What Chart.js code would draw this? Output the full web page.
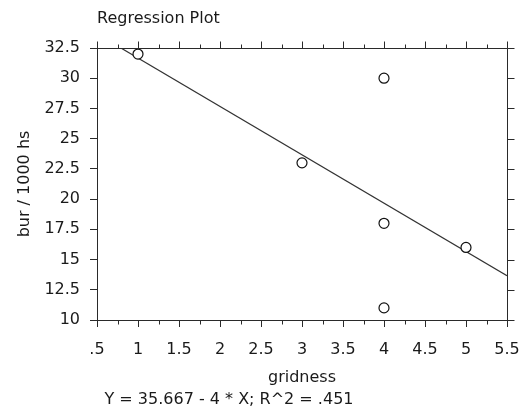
<!DOCTYPE html>
<html>
<head>
<meta charset="utf-8">
<script src="https://cdn.jsdelivr.net/npm/chart.js@4.4.1/dist/chart.umd.min.js"></script>
<style>
  html, body { margin: 0; padding: 0; background: #fff; }
  #wrap { width: 523px; height: 409px; }
</style>
</head>
<body>
<div id="wrap"><canvas id="chart" width="523" height="409"></canvas></div>
<script>
// observed points
const gridness = [1, 3, 4, 4, 4, 5];
const burRate = [32, 23, 30, 18, 11, 16];

// fitted line ends (Y = 35.667 - 4 * X)
const fitX = [0.5, 5.5];
const fitY = [33.667, 13.667];

// axis ticks
const xTickValues = [0.5, 1, 1.5, 2, 2.5, 3, 3.5, 4, 4.5, 5, 5.5];
const xMinorTicks = [0.75, 1.25, 1.75, 2.25, 2.75, 3.25, 3.75, 4.25, 4.75, 5.25];
const yTickValues = [10, 12.5, 15, 17.5, 20, 22.5, 25, 27.5, 30, 32.5];

const titleText = 'Regression Plot';
const xTitle = 'gridness';
const yTitle = 'bur / 1000 hs';
const fitText = 'Y = 35.667 - 4 * X; R^2 = .451';

const ink = '#1a1a1a';
const axisColor = '#2a2a2a';
const fontFamily = '"DejaVu Sans", Verdana, sans-serif';

const frameTicks = {
    id: 'frameTicks',
    afterDraw(chart) {
        const { ctx, chartArea: a, scales: { x, y } } = chart;
        const px = v => Math.round(x.getPixelForValue(v)) + 0.5;
        const py = v => Math.round(y.getPixelForValue(v)) + 0.5;
        const top = Math.round(a.top) + 0.5;
        const right = Math.round(a.right) + 0.5;
        const bottom = Math.round(a.bottom) + 0.5;

        ctx.save();
        ctx.strokeStyle = axisColor;
        ctx.lineWidth = 1;
        ctx.beginPath();
        ctx.moveTo(Math.round(a.left) + 0.5, top);
        ctx.lineTo(right, top);
        ctx.lineTo(right, bottom);
        xTickValues.forEach(v => {
            ctx.moveTo(px(v), top);
            ctx.lineTo(px(v), top - 7);
        });
        xMinorTicks.forEach(v => {
            ctx.moveTo(px(v), top);
            ctx.lineTo(px(v), top - 4);
            ctx.moveTo(px(v), bottom);
            ctx.lineTo(px(v), bottom + 4);
        });
        yTickValues.forEach(v => {
            ctx.moveTo(right, py(v));
            ctx.lineTo(right + 7, py(v));
        });
        ctx.stroke();

        ctx.fillStyle = ink;
        ctx.font = `16px ${fontFamily}`;
        ctx.textAlign = 'left';
        ctx.textBaseline = 'middle';
        ctx.fillText(titleText, 97, 19);

        ctx.textAlign = 'center';
        ctx.fillText(fitText, 229, 400);
        ctx.restore();
    }
};

const tickLabel = v => String(v).replace(/^0\./, '.');

new Chart(document.getElementById('chart'), {
    type: 'scatter',
    data: {
        datasets: [
            {
                label: 'observed',
                data: gridness.map((g, i) => ({ x: g, y: burRate[i] })),
                pointStyle: 'circle',
                pointRadius: 5,
                pointBorderWidth: 1.2,
                pointBorderColor: '#111',
                pointBackgroundColor: '#fff',
                order: 0
            },
            {
                type: 'line',
                label: 'fit',
                data: fitX.map((g, i) => ({ x: g, y: fitY[i] })),
                borderColor: '#333',
                borderWidth: 1.2,
                pointRadius: 0,
                fill: false,
                order: 1
            }
        ]
    },
    plugins: [frameTicks],
    options: {
        responsive: false,
        animation: false,
        layout: { padding: { top: 48, right: 16, left: 0, bottom: 0 } },
        plugins: {
            legend: { display: false },
            tooltip: { enabled: false },
            title: { display: false }
        },
        scales: {
            x: {
                type: 'linear',
                min: 0.5,
                max: 5.5,
                afterBuildTicks: s => { s.ticks = xTickValues.map(v => ({ value: v })); },
                afterFit: s => { s.height = 89; s.paddingLeft = 0; s.paddingRight = 0; },
                grid: { drawOnChartArea: false, tickLength: 7, color: axisColor },
                border: { color: axisColor, width: 1 },
                ticks: {
                    color: ink,
                    font: { family: fontFamily, size: 16 },
                    padding: 13,
                    maxRotation: 0,
                    autoSkip: false,
                    callback: tickLabel
                },
                title: {
                    display: true,
                    text: xTitle,
                    color: ink,
                    font: { family: fontFamily, size: 16 },
                    padding: 22
                }
            },
            y: {
                type: 'linear',
                min: 10,
                max: 32.5,
                afterBuildTicks: s => { s.ticks = yTickValues.map(v => ({ value: v })); },
                afterFit: s => { s.width = 97; s.paddingTop = 0; s.paddingBottom = 0; },
                grid: { drawOnChartArea: false, tickLength: 7, color: axisColor },
                border: { color: axisColor, width: 1 },
                ticks: {
                    color: ink,
                    font: { family: fontFamily, size: 16 },
                    padding: 10,
                    autoSkip: false,
                    callback: tickLabel
                },
                title: {
                    display: true,
                    text: yTitle,
                    color: ink,
                    font: { family: fontFamily, size: 16 },
                    padding: 15
                }
            }
        }
    }
});
</script>
</body>
</html>
